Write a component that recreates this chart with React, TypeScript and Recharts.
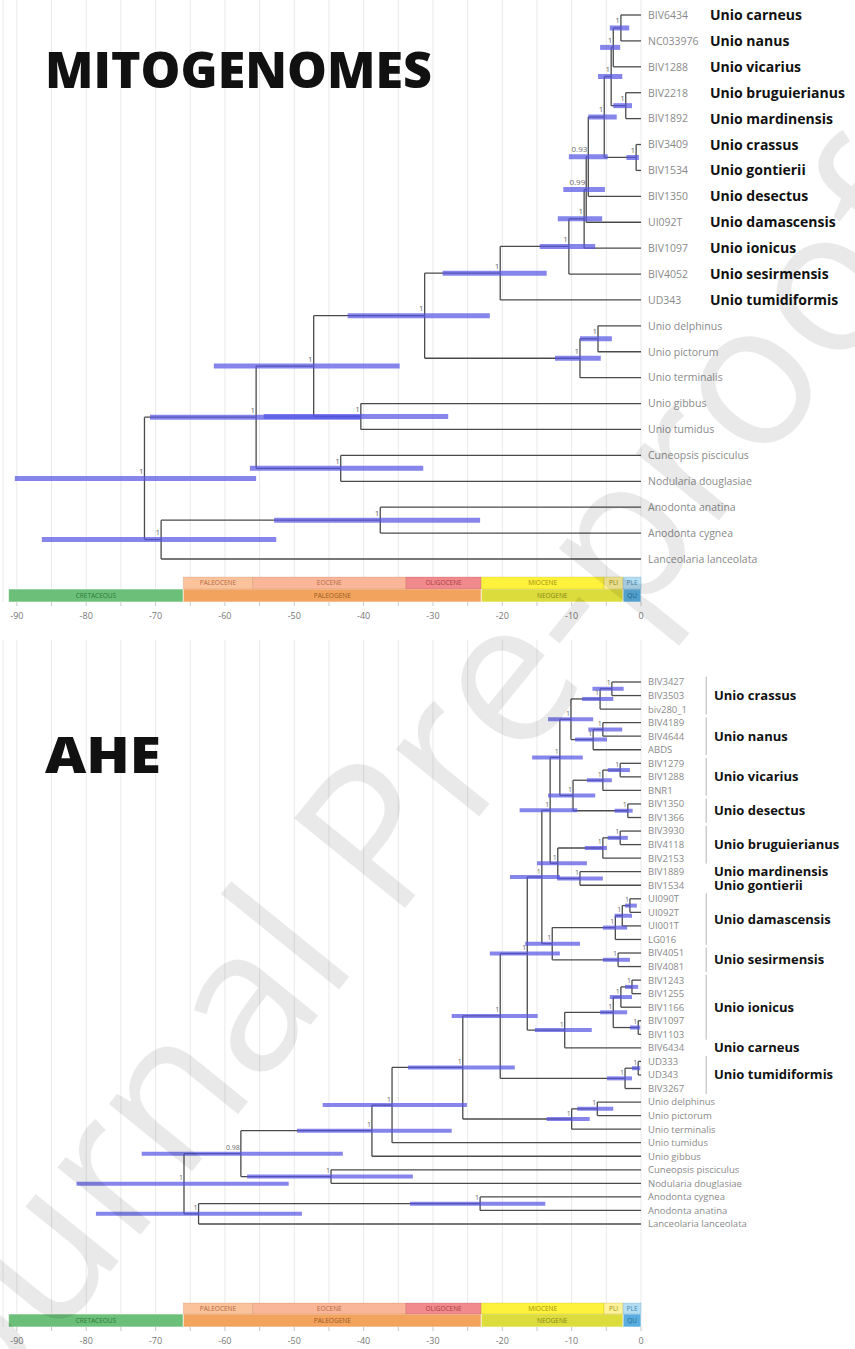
import React from "react";
import {
  ComposedChart,
  XAxis,
  YAxis,
  CartesianGrid,
  ReferenceLine,
  ReferenceArea,
  Scatter,
} from "recharts";

// time axis, million years before present
const timeTicks = [-90, -85, -80, -75, -70, -65, -60, -55, -50, -45, -40, -35, -30, -25, -20, -15, -10, -5, 0];

// ---------- MITOGENOMES tree ----------
const mitoLeaves = [
  "BIV6434", "NC033976", "BIV1288", "BIV2218", "BIV1892", "BIV3409", "BIV1534",
  "BIV1350", "UI092T", "BIV1097", "BIV4052", "UD343",
  "Unio delphinus", "Unio pictorum", "Unio terminalis", "Unio gibbus", "Unio tumidus",
  "Cuneopsis pisciculus", "Nodularia douglasiae", "Anodonta anatina", "Anodonta cygnea",
  "Lanceolaria lanceolata",
];
const mitoSpecies = [
  "Unio carneus", "Unio nanus", "Unio vicarius", "Unio bruguierianus", "Unio mardinensis",
  "Unio crassus", "Unio gontierii", "Unio desectus", "Unio damascensis", "Unio ionicus",
  "Unio sesirmensis", "Unio tumidiformis",
];
// [node, child A, child B, age, 95% HPD low, 95% HPD high, posterior]
const mitoNodes: [string, string, string, number, number, number, string][] = [
  ["N1", "BIV6434", "NC033976", -2.9, -4.5, -1.7, "1"],
  ["N2", "N1", "BIV1288", -4.0, -5.9, -3.0, "1"],
  ["N3", "BIV2218", "BIV1892", -2.2, -4.0, -1.3, "1"],
  ["N4", "N2", "N3", -4.3, -6.2, -2.7, "1"],
  ["N6", "BIV3409", "BIV1534", -0.7, -2.1, -0.3, "1"],
  ["N5", "N4", "N6", -5.3, -7.6, -3.5, "1"],
  ["N7", "N5", "BIV1350", -7.6, -10.4, -4.8, "0.93"],
  ["N8", "N7", "UI092T", -7.9, -11.2, -5.2, "0.99"],
  ["N9", "N8", "BIV1097", -8.2, -12.0, -5.6, "1"],
  ["N10", "N9", "BIV4052", -10.4, -14.6, -6.6, "1"],
  ["N11", "N10", "UD343", -20.3, -28.6, -13.6, "1"],
  ["P1", "Unio delphinus", "Unio pictorum", -6.2, -8.8, -4.2, "1"],
  ["P2", "P1", "Unio terminalis", -8.8, -12.4, -5.8, "1"],
  ["Q", "N11", "P2", -31.2, -42.3, -21.8, "1"],
  ["G", "Unio gibbus", "Unio tumidus", -40.4, -54.4, -27.8, "1"],
  ["R", "Q", "G", -47.2, -61.6, -34.8, "1"],
  ["CN", "Cuneopsis pisciculus", "Nodularia douglasiae", -43.3, -56.4, -31.4, "1"],
  ["S", "R", "CN", -55.5, -70.8, -40.5, "1"],
  ["A1", "Anodonta anatina", "Anodonta cygnea", -37.6, -52.9, -23.2, "1"],
  ["A", "A1", "Lanceolaria lanceolata", -69.2, -86.4, -52.6, "1"],
  ["ROOT", "S", "A", -71.6, -90.3, -55.5, "1"],
];

// ---------- AHE tree ----------
const aheLeaves = [
  "BIV3427", "BIV3503", "biv280_1", "BIV4189", "BIV4644", "ABDS", "BIV1279", "BIV1288",
  "BNR1", "BIV1350", "BIV1366", "BIV3930", "BIV4118", "BIV2153", "BIV1889", "BIV1534",
  "UI090T", "UI092T", "UI001T", "LG016", "BIV4051", "BIV4081", "BIV1243", "BIV1255",
  "BIV1166", "BIV1097", "BIV1103", "BIV6434", "UD333", "UD343", "BIV3267",
  "Unio delphinus", "Unio pictorum", "Unio terminalis", "Unio tumidus", "Unio gibbus",
  "Cuneopsis pisciculus", "Nodularia douglasiae", "Anodonta cygnea", "Anodonta anatina",
  "Lanceolaria lanceolata",
];
// [species, first leaf, last leaf]
const aheGroups: [string, number, number][] = [
  ["Unio crassus", 0, 2],
  ["Unio nanus", 3, 5],
  ["Unio vicarius", 6, 8],
  ["Unio desectus", 9, 10],
  ["Unio bruguierianus", 11, 13],
  ["Unio mardinensis", 14, 14],
  ["Unio gontierii", 15, 15],
  ["Unio damascensis", 16, 19],
  ["Unio sesirmensis", 20, 21],
  ["Unio ionicus", 22, 26],
  ["Unio carneus", 27, 27],
  ["Unio tumidiformis", 28, 30],
];
const aheNodes: [string, string, string, number, number, number, string][] = [
  ["a", "BIV3427", "BIV3503", -4.2, -7.0, -2.5, "1"],
  ["b", "a", "biv280_1", -5.9, -8.5, -4.0, "1"],
  ["c", "BIV4189", "BIV4644", -5.5, -7.6, -2.7, "1"],
  ["d", "c", "ABDS", -6.9, -9.5, -4.9, "1"],
  ["e", "b", "d", -10.1, -13.4, -6.9, "1"],
  ["f", "BIV1279", "BIV1288", -3.0, -4.8, -1.6, "1"],
  ["g", "f", "BNR1", -5.5, -7.8, -4.2, "1"],
  ["h", "BIV1350", "BIV1366", -1.9, -3.8, -1.2, "1"],
  ["i", "g", "h", -9.8, -13.4, -6.6, "1"],
  ["j", "e", "i", -11.7, -15.7, -8.4, "1"],
  ["m", "BIV3930", "BIV4118", -3.0, -4.8, -1.9, "1"],
  ["n", "m", "BIV2153", -5.5, -8.1, -4.9, "1"],
  ["o", "BIV1889", "BIV1534", -8.8, -12.1, -5.5, "1"],
  ["p", "n", "o", -12.0, -15.0, -7.8, "1"],
  ["k", "j", "p", -13.1, -17.5, -9.2, "1"],
  ["r", "UI090T", "UI092T", -1.6, -2.3, -0.6, "1"],
  ["s", "r", "UI001T", -2.7, -3.8, -1.3, "1"],
  ["t", "s", "LG016", -3.7, -5.5, -2.0, "1"],
  ["u", "BIV4051", "BIV4081", -3.3, -5.5, -1.6, "1"],
  ["v", "t", "u", -12.8, -16.7, -8.8, "1"],
  ["w", "k", "v", -14.3, -18.9, -11.7, "1"],
  ["aa", "BIV1243", "BIV1255", -1.3, -2.3, -0.4, "1"],
  ["bb", "aa", "BIV1166", -2.9, -4.5, -1.3, "1"],
  ["cc", "BIV1097", "BIV1103", -0.4, -1.6, -0.1, "1"],
  ["dd", "bb", "cc", -4.0, -5.9, -2.0, "1"],
  ["ee", "dd", "BIV6434", -11.0, -15.3, -7.1, "1"],
  ["U", "w", "ee", -16.4, -21.8, -11.7, "1"],
  ["ff", "UD333", "UD343", -0.4, -1.3, -0.1, "1"],
  ["gg", "ff", "BIV3267", -2.3, -4.9, -1.3, "1"],
  ["V", "U", "gg", -20.3, -27.3, -14.9, "1"],
  ["hh", "Unio delphinus", "Unio pictorum", -6.3, -9.2, -4.0, "1"],
  ["ii", "hh", "Unio terminalis", -10.0, -13.6, -7.4, "1"],
  ["W", "V", "ii", -25.7, -33.6, -18.2, "1"],
  ["Z", "W", "Unio tumidus", -35.9, -45.9, -25.1, "1"],
  ["Y", "Z", "Unio gibbus", -38.8, -49.6, -27.3, "1"],
  ["CN", "Cuneopsis pisciculus", "Nodularia douglasiae", -44.7, -56.8, -32.9, "1"],
  ["X", "Y", "CN", -57.7, -72.0, -43.0, "0.98"],
  ["AN", "Anodonta cygnea", "Anodonta anatina", -23.2, -33.3, -13.8, "1"],
  ["AL", "AN", "Lanceolaria lanceolata", -63.8, -78.6, -48.9, "1"],
  ["ROOT", "X", "AL", -65.9, -81.4, -50.8, "1"],
];

// ---------- geological time scale ----------
const epochNames = ["PALEOCENE", "EOCENE", "OLIGOCENE", "MIOCENE", "PLI", "PLE"];
const epochBounds: [number, number][] = [[-66, -56], [-56, -33.9], [-33.9, -23.03], [-23.03, -5.33], [-5.33, -2.58], [-2.58, 0]];
const periodNames = ["CRETACEOUS", "PALEOGENE", "NEOGENE", "QU"];
const periodBounds: [number, number][] = [[-91.2, -66], [-66, -23.03], [-23.03, -2.58], [-2.58, 0]];

const epochFill = ["#fbc39c", "#f9b698", "#f18a8c", "#fff23d", "#fdf29a", "#b5ddf2"];
const epochInk = ["#b26a42", "#b26a42", "#a83c44", "#a08e10", "#a08e10", "#3f86b0"];
const periodFill = ["#6cbf78", "#f2a35e", "#dcdc3c", "#5aaedf"];
const periodInk = ["#2e7a3a", "#9c5a20", "#86861a", "#1f6a98"];

const FONT = "'Open Sans', 'DejaVu Sans', sans-serif";
const BRANCH = "#4a4a4a";
const HPD = "#5656e4";

type Tree = { x: number; y: number; ax: number; ay: number; bx: number; by: number; lo: number; hi: number; post: string }[];

function layout(leaves: string[], nodes: [string, string, string, number, number, number, string][]): Tree {
  const pos = new Map<string, { x: number; y: number }>();
  leaves.forEach((l, i) => pos.set(l, { x: 0, y: i }));
  return nodes.map(([id, a, b, age, lo, hi, post]) => {
    const pa = pos.get(a)!;
    const pb = pos.get(b)!;
    const y = (pa.y + pb.y) / 2;
    pos.set(id, { x: age, y });
    return { x: age, y, ax: pa.x, ay: pa.y, bx: pb.x, by: pb.y, lo, hi, post };
  });
}

type PanelProps = {
  height: number;
  axisHeight: number;
  yDomain: [number, number];
  epochRow: [number, number];
  periodRow: [number, number];
  leaves: string[];
  nodes: [string, string, string, number, number, number, string][];
  barWidth: number;
  nodeFont: number;
  leafLabel: (p: any) => React.ReactElement;
  extra?: React.ReactNode[];
  extraScatter?: React.ReactNode;
};

function TreePanel(p: PanelProps) {
  const tree = layout(p.leaves, p.nodes);
  const leafPts = p.leaves.map((name, i) => ({ x: 0, y: i, name, i }));
  const nodePts = tree.map((n) => ({ x: n.x, y: n.y, post: n.post }));

  const lines: React.ReactNode[] = [];
  tree.forEach((n, k) => {
    lines.push(
      <ReferenceLine key={`v${k}`} segment={[{ x: n.x, y: n.ay }, { x: n.x, y: n.by }]} stroke={BRANCH} strokeWidth={1.3} />,
      <ReferenceLine key={`a${k}`} segment={[{ x: n.x, y: n.ay }, { x: n.ax, y: n.ay }]} stroke={BRANCH} strokeWidth={1.3} />,
      <ReferenceLine key={`b${k}`} segment={[{ x: n.x, y: n.by }, { x: n.bx, y: n.by }]} stroke={BRANCH} strokeWidth={1.3} />,
    );
  });
  const bars = tree.map((n, k) => (
    <ReferenceLine
      key={`h${k}`}
      segment={[{ x: n.lo, y: n.y }, { x: n.hi, y: n.y }]}
      stroke={HPD}
      strokeOpacity={0.72}
      strokeWidth={p.barWidth}
    />
  ));

  return (
    <ComposedChart width={855} height={p.height} margin={{ top: 0, right: 214, bottom: 0, left: 3 }}>
      <CartesianGrid vertical horizontal={false} stroke="#e9e9e9" />
      <XAxis
        type="number"
        dataKey="x"
        domain={[-92, 0]}
        ticks={timeTicks}
        height={p.axisHeight}
        axisLine={false}
        tickLine={{ stroke: "#c8c8c8" }}
        tickSize={4}
        tickMargin={7}
        tick={{ fontSize: 9, fill: "#777", fontFamily: FONT }}
        tickFormatter={(v: number) => (v % 10 === 0 ? String(v) : "")}
      />
      <YAxis type="number" dataKey="y" domain={p.yDomain} reversed hide />
      {periodBounds.map(([x1, x2], k) => (
        <ReferenceArea
          key={`per${k}`}
          x1={x1}
          x2={x2}
          y1={p.periodRow[0]}
          y2={p.periodRow[1]}
          fill={periodFill[k]}
          fillOpacity={1}
          stroke="#ffffff"
          strokeWidth={0.6}
          label={{ value: periodNames[k], position: "center", fontSize: 6.5, fill: periodInk[k], fontFamily: FONT }}
        />
      ))}
      {epochBounds.map(([x1, x2], k) => (
        <ReferenceArea
          key={`ep${k}`}
          x1={x1}
          x2={x2}
          y1={p.epochRow[0]}
          y2={p.epochRow[1]}
          fill={epochFill[k]}
          fillOpacity={1}
          stroke={epochInk[k]}
          strokeOpacity={0.35}
          strokeWidth={0.6}
          label={{ value: epochNames[k], position: "center", fontSize: 6.5, fill: epochInk[k], fontFamily: FONT }}
        />
      ))}
      {lines}
      {bars}
      {p.extra}
      <Scatter
        data={leafPts}
        isAnimationActive={false}
        shape={(s: any) => p.leafLabel(s)}
      />
      <Scatter
        data={nodePts}
        isAnimationActive={false}
        shape={(s: any) => (
          <text
            x={s.cx - 1}
            y={s.cy - p.barWidth + 0.5}
            textAnchor="end"
            fontSize={p.nodeFont}
            fill="#6a6a6a"
            fontFamily={FONT}
          >
            {s.payload.post}
          </text>
        )}
      />
      {p.extraScatter}
    </ComposedChart>
  );
}

function MitoLeaf(s: any) {
  const i = s.payload.i as number;
  const sp = mitoSpecies[i];
  return (
    <g>
      <text x={s.cx + 7} y={s.cy + 3.8} fontSize={10.5} fill="#8a8a8a" fontFamily={FONT}>
        {s.payload.name}
      </text>
      {sp && (
        <text x={s.cx + 69} y={s.cy + 5} fontSize={14} fontWeight={700} fill="#111" fontFamily={FONT}>
          {sp}
        </text>
      )}
    </g>
  );
}

function AheLeaf(s: any) {
  return (
    <text x={s.cx + 7} y={s.cy + 3.4} fontSize={9.5} fill="#8a8a8a" fontFamily={FONT}>
      {s.payload.name}
    </text>
  );
}

// horizontal offset (in Myr units beyond the tips) of the species brackets
const BRACKET_T = 9.4;

export default function App() {
  const groupPts = aheGroups.map(([name, a, b]) => ({ x: 0, y: (a + b) / 2, name }));
  const brackets = aheGroups
    .filter(([, a, b]) => b > a)
    .map(([name, a, b]) => (
      <ReferenceLine
        key={`br${name}`}
        segment={[{ x: BRACKET_T, y: a - 0.4 }, { x: BRACKET_T, y: b + 0.4 }]}
        stroke="#b5b5b5"
        strokeWidth={1}
        ifOverflow="visible"
      />
    ));

  return (
    <div style={{ position: "absolute", left: 0, top: 0, width: 855, height: 1349, background: "#fff", overflow: "hidden" }}>
      <TreePanel
        height={640}
        axisHeight={38}
        yDomain={[-0.579, 22.66]}
        epochRow={[21.695, 22.158]}
        periodRow={[22.158, 22.66]}
        leaves={mitoLeaves}
        nodes={mitoNodes}
        barWidth={5}
        nodeFont={8}
        leafLabel={MitoLeaf}
      />
      <TreePanel
        height={709}
        axisHeight={22}
        yDomain={[-3.1, 47.6]}
        epochRow={[45.83, 46.64]}
        periodRow={[46.64, 47.6]}
        leaves={aheLeaves}
        nodes={aheNodes}
        barWidth={4}
        nodeFont={7}
        leafLabel={AheLeaf}
        extra={brackets}
        extraScatter={
          <Scatter
            data={groupPts}
            isAnimationActive={false}
            shape={(s: any) => (
              <text x={s.cx + 73} y={s.cy + 4.4} fontSize={13} fontWeight={700} fill="#111" fontFamily={FONT}>
                {s.payload.name}
              </text>
            )}
          />
        }
      />
      <svg width={855} height={1349} style={{ position: "absolute", left: 0, top: 0, pointerEvents: "none" }}>
        <text x={45} y={88} fontSize={50} fontWeight={800} fill="#111" fontFamily={FONT} textLength={387} lengthAdjust="spacingAndGlyphs">
          MITOGENOMES
        </text>
        <text x={45} y={773} fontSize={50} fontWeight={800} fill="#111" fontFamily={FONT} textLength={116} lengthAdjust="spacingAndGlyphs">
          AHE
        </text>
        <text
          x={388}
          y={806}
          fontSize={200}
          fill="#000"
          fillOpacity={0.085}
          fontFamily={FONT}
          textAnchor="middle"
          dominantBaseline="central"
          transform="rotate(-51 388 806)"
        >
          Journal Pre-proof
        </text>
      </svg>
    </div>
  );
}
